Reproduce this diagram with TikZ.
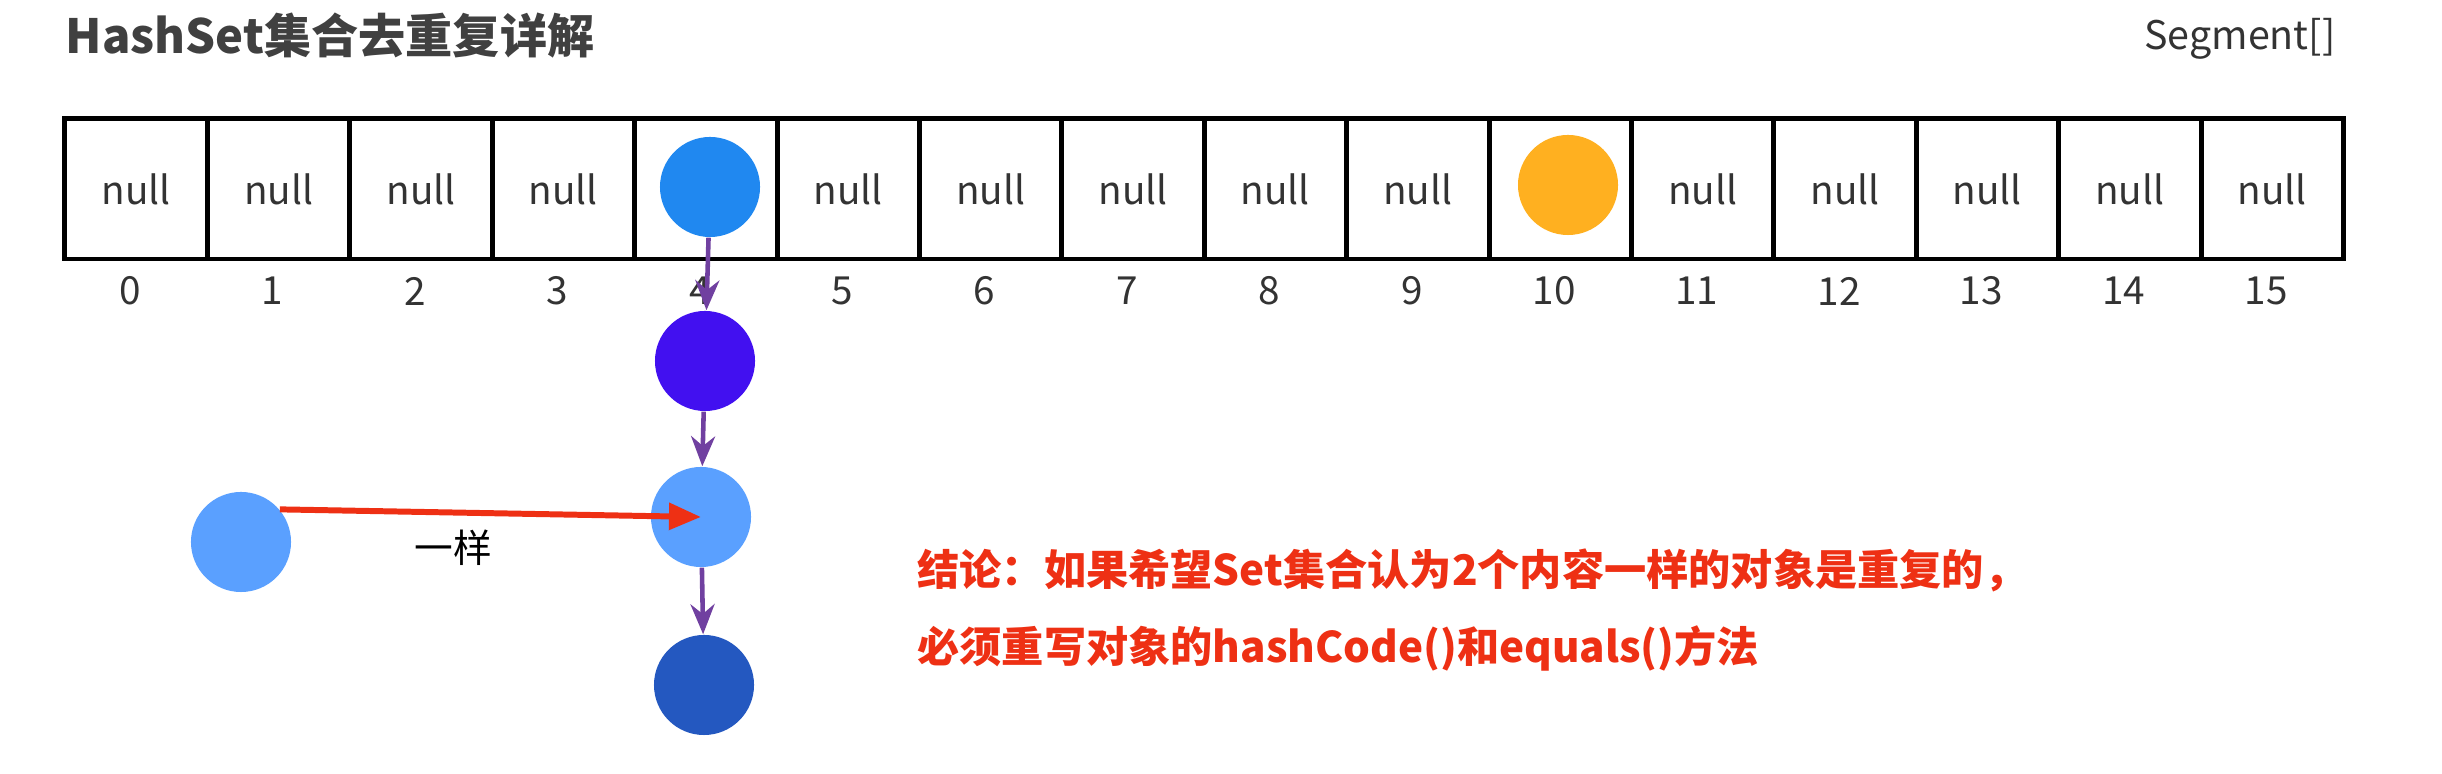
\documentclass[tikz,border=0pt]{standalone}
\usepackage{fontspec}
\setmainfont{Noto Sans CJK SC}
\usepackage{xcolor}
\usetikzlibrary{arrows.meta,positioning}
\definecolor{titlegray}{RGB}{64,64,64}
\definecolor{txtgray}{RGB}{51,51,51}
\definecolor{headblue}{RGB}{32,136,240}
\definecolor{violetnode}{RGB}{66,16,240}
\definecolor{lightblue}{RGB}{90,160,255}
\definecolor{darkblue}{RGB}{36,88,192}
\definecolor{goldnode}{RGB}{255,176,32}
\definecolor{linkpurple}{RGB}{112,64,160}
\definecolor{concred}{RGB}{238,48,20}

\begin{document}
\begin{tikzpicture}[
    x=0.01cm, y=-0.01cm,
    % Array cell style
    cell/.style={rectangle, draw=black, line width=1.4pt, minimum width=1.424cm, minimum height=1.40cm, inner sep=0pt, font=\fontsize{11}{13}\selectfont, text=txtgray},
    % Index label style
    idx/.style={font=\fontsize{11}{13}\selectfont, text=txtgray},
    % Element circles
    ball/.style={circle, minimum size=1.0cm, inner sep=0pt},
    % Chain links
    link/.style={-{Stealth[length=3mm, width=2.4mm]}, line width=1.3pt, draw=linkpurple}
]
    \useasboundingbox (0,0) rectangle (2442,774);

    % --- HEADER ---
    \node[anchor=west, inner sep=0pt, font=\bfseries\fontsize{13.4}{16}\selectfont, text=titlegray] (title) at (65, 36) {HashSet集合去重复详解};
    \node[anchor=east, inner sep=0pt, font=\fontsize{11.2}{14}\selectfont, text=txtgray] (seg) at (2336, 39) {Segment[]};

    % --- ARRAY ---
    \foreach \i in {0,...,15} {
        \ifnum\i=4 \def\t{}\else\ifnum\i=10 \def\t{}\else\def\t{null}\fi\fi
        \node[cell] (c\i) at ({65+142.4*(\i+0.5)}, 189) {\t};
        \node[idx] (i\i) at ({59+142.4*(\i+0.5)}, 291) {\i};
    }

    % Stored elements
    \node[ball, fill=headblue] (b4) at (710, 187) {};
    \node[ball, fill=goldnode] (b10) at (1568, 185) {};

    % --- CHAIN AT INDEX 4 ---
    \node[ball, fill=violetnode] (n1) at (705, 361) {};
    \node[ball, fill=lightblue] (n2) at (701, 517) {};
    \node[ball, fill=darkblue] (n3) at (704, 685) {};

    \draw[link] (b4) -- (n1);
    \draw[link] (n1) -- (n2);
    \draw[link] (n2) -- (n3);

    % --- NEW ELEMENT (same content) ---
    \node[ball, fill=lightblue] (dup) at (241, 542) {};
    \draw[-{Triangle[length=3.2mm, width=2.6mm]}, line width=1.7pt, concred] (dup.40) -- (n2.center);
    \node[font=\fontsize{11}{13}\selectfont] (same) at (453, 548) {一样};

    % --- CONCLUSION ---
    \node[anchor=west, font=\bfseries\fontsize{12}{14}\selectfont, text=concred] (concl1) at (905, 570) {结论：如果希望Set集合认为2个内容一样的对象是重复的，};
    \node[anchor=west, font=\bfseries\fontsize{12}{14}\selectfont, text=concred] (concl2) at (905, 648) {必须重写对象的hashCode()和equals()方法};

\end{tikzpicture}
\end{document}
